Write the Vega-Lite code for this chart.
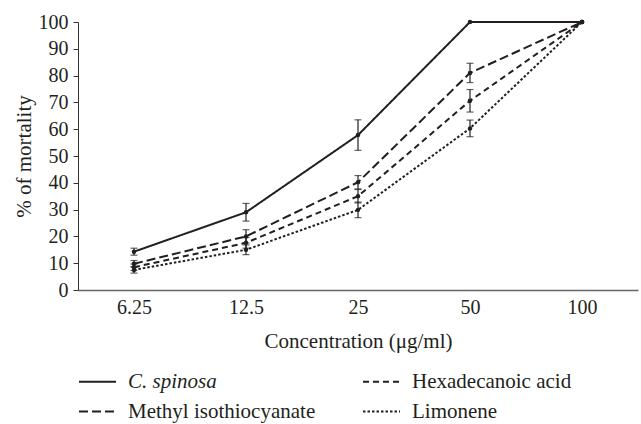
{
  "$schema": "https://vega.github.io/schema/vega-lite/v6.json",
  "width": 560,
  "height": 268,
  "autosize": {"type": "none"},
  "padding": {"left": 78, "top": 22, "right": 3, "bottom": 134},
  "background": "white",
  "config": {
    "font": "Liberation Serif",
    "view": {"stroke": null},
    "axis": {"grid": false, "domainColor": "#333", "tickColor": "#333", "labelColor": "#231f20", "titleColor": "#231f20", "labelFontSize": 20, "titleFontSize": 21, "titleFontWeight": "normal", "labelFont": "Liberation Serif", "titleFont": "Liberation Serif"},
    "legend": {"labelFont": "Liberation Serif"}
  },
  "data": {
    "values": [
      {"series": "C. spinosa", "conc": "6.25", "v": 14.3, "e": 1.3},
      {"series": "C. spinosa", "conc": "12.5", "v": 29.0, "e": 3.3},
      {"series": "C. spinosa", "conc": "25", "v": 57.8, "e": 5.7},
      {"series": "C. spinosa", "conc": "50", "v": 100, "e": 0},
      {"series": "C. spinosa", "conc": "100", "v": 100, "e": 0},
      {"series": "Methyl isothiocyanate", "conc": "6.25", "v": 9.8, "e": 1.2},
      {"series": "Methyl isothiocyanate", "conc": "12.5", "v": 20.0, "e": 2.5},
      {"series": "Methyl isothiocyanate", "conc": "25", "v": 40.2, "e": 2.5},
      {"series": "Methyl isothiocyanate", "conc": "50", "v": 81.0, "e": 3.6},
      {"series": "Methyl isothiocyanate", "conc": "100", "v": 100, "e": 0},
      {"series": "Hexadecanoic acid", "conc": "6.25", "v": 8.5, "e": 1.2},
      {"series": "Hexadecanoic acid", "conc": "12.5", "v": 17.6, "e": 2.0},
      {"series": "Hexadecanoic acid", "conc": "25", "v": 35.0, "e": 2.5},
      {"series": "Hexadecanoic acid", "conc": "50", "v": 70.6, "e": 4.2},
      {"series": "Hexadecanoic acid", "conc": "100", "v": 100, "e": 0},
      {"series": "Limonene", "conc": "6.25", "v": 7.5, "e": 1.2},
      {"series": "Limonene", "conc": "12.5", "v": 15.0, "e": 1.8},
      {"series": "Limonene", "conc": "25", "v": 29.9, "e": 2.9},
      {"series": "Limonene", "conc": "50", "v": 60.3, "e": 3.1},
      {"series": "Limonene", "conc": "100", "v": 100, "e": 0}
    ]
  },
  "encoding": {
    "x": {
      "field": "conc", "type": "ordinal",
      "sort": ["6.25", "12.5", "25", "50", "100"],
      "scale": {"type": "point", "padding": 0.5},
      "axis": {"title": "Concentration (μg/ml)", "labelAngle": 0, "ticks": false, "labelPadding": 7, "titlePadding": 13, "domainColor": "#666", "domainWidth": 1.5}
    },
    "y": {"field": "v", "type": "quantitative", "scale": {"domain": [0, 100]},
      "axis": {"title": "% of mortality", "values": [0,10,20,30,40,50,60,70,80,90,100], "tickSize": 5, "labelPadding": 5, "titlePadding": 4}}
  },
  "layer": [
    {
      "mark": {"type": "line", "strokeWidth": 2, "color": "#231f20"},
      "encoding": {
        "strokeDash": {
          "field": "series", "type": "nominal",
          "scale": {"domain": ["C. spinosa", "Hexadecanoic acid", "Methyl isothiocyanate", "Limonene"], "range": [[1, 0], [6, 4], [9, 4], [2.5, 2]]},
          "legend": {
            "title": null, "orient": "none", "legendX": 0, "legendY": 340, "direction": "horizontal", "columns": 2,
            "symbolType": "M-1,0L1,0", "symbolSize": 1369, "symbolStrokeWidth": 2, "symbolStrokeColor": "#231f20",
            "labelFontSize": 21, "labelLimit": 400, "labelColor": "#231f20", "labelOffset": 11, "rowPadding": -10, "columnPadding": 43,
            "encode": {"labels": {"update": {"fontStyle": {"signal": "datum.label == 'C. spinosa' ? 'italic' : 'normal'"}}}}
          }
        }
      }
    },
    {
      "mark": {"type": "point", "filled": true, "size": 20, "color": "#231f20", "opacity": 1},
      "encoding": {"detail": {"field": "series"}}
    },
    {
      "transform": [{"filter": "datum.e > 0"}],
      "mark": {"type": "errorbar", "ticks": {"size": 7}, "color": "#231f20", "thickness": 1.2},
      "encoding": {"yError": {"field": "e"}, "detail": {"field": "series"}}
    }
  ]
}
